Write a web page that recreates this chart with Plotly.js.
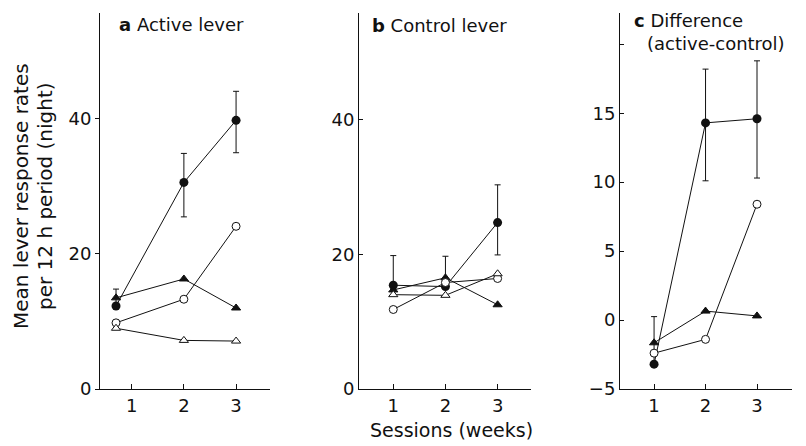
<!DOCTYPE html>
<html>
<head>
<meta charset="utf-8">
<script src="https://cdn.plot.ly/plotly-3.0.1.min.js"></script>
<style>html,body{margin:0;padding:0;background:#fff;}#chart{width:806px;height:446px;}</style>
</head>
<body>
<div id="chart"></div>
<script>
// ---- data ----
const xActive = [0.7, 2, 3];
const weeks = [1, 2, 3];

// Panel a: Active lever
const actFilledCircle = [12.3, 30.6, 39.8];
const actFilledCircleErrPlus = [2.5, 4.3, 4.3];
const actFilledCircleErrMinus = [0, 5.1, 4.8];
const actFilledTri = [13.5, 16.3, 12.0];
const actOpenCircle = [9.8, 13.3, 24.1];
const actOpenTri = [9.0, 7.2, 7.1];

// Panel b: Control lever
const ctlFilledCircle = [15.4, 15.2, 24.7];
const ctlFilledCircleErrPlus = [4.4, 4.5, 5.6];
const ctlFilledCircleErrMinus = [0, 0, 4.8];
const ctlFilledTri = [14.7, 16.5, 12.5];
const ctlOpenCircle = [11.8, 15.8, 16.4];
const ctlOpenTri = [14.0, 13.9, 17.1];

// Panel c: Difference (active-control)
const difFilledCircle = [-3.2, 14.3, 14.6];
const difFilledCircleErrPlus = [3.45, 3.9, 4.2];
const difFilledCircleErrMinus = [0, 4.2, 4.3];
const difFilledTri = [-1.65, 0.65, 0.3];
const difOpenCircle = [-2.4, -1.4, 8.4];

const xTickVals = [1, 2, 3];
const xTickText = ['1', '2', '3'];
const yTickValsAB = [0, 20, 40];
const yTickTextAB = ['0', '20', '40'];
const yTickValsC = [-5, 0, 5, 10, 15, 20];
const yTickTextC = ['\u22125', '0', '5', '10', '15', ''];

// ---- styling ----
const INK = '#111';
const FONT = 'DejaVu Sans';
const lineStyle = {color: INK, width: 1};

function filledCircle(x, y, xa, ya, plus, minus) {
  return {x: x, y: y, xaxis: xa, yaxis: ya, type: 'scatter', mode: 'lines+markers',
    line: lineStyle, marker: {symbol: 'circle', size: 9, color: INK},
    error_y: {type: 'data', symmetric: false, array: plus, arrayminus: minus,
      color: INK, thickness: 1, width: 3},
    showlegend: false, hoverinfo: 'skip'};
}
function series(x, y, xa, ya, symbol, filled, size) {
  return {x: x, y: y, xaxis: xa, yaxis: ya, type: 'scatter', mode: 'lines+markers',
    line: lineStyle,
    marker: {symbol: symbol, size: size, color: filled ? INK : '#fff', line: {color: INK, width: 1}},
    showlegend: false, hoverinfo: 'skip'};
}

const data = [
  filledCircle(xActive, actFilledCircle, 'x', 'y', actFilledCircleErrPlus, actFilledCircleErrMinus),
  series(xActive, actFilledTri, 'x', 'y', 'triangle-up', true, 8),
  series(xActive, actOpenCircle, 'x', 'y', 'circle', false, 8),
  series(xActive, actOpenTri, 'x', 'y', 'triangle-up', false, 8),

  filledCircle(weeks, ctlFilledCircle, 'x2', 'y2', ctlFilledCircleErrPlus, ctlFilledCircleErrMinus),
  series(weeks, ctlFilledTri, 'x2', 'y2', 'triangle-up', true, 8),
  series(weeks, ctlOpenCircle, 'x2', 'y2', 'circle', false, 8),
  series(weeks, ctlOpenTri, 'x2', 'y2', 'triangle-up', false, 8),

  filledCircle(weeks, difFilledCircle, 'x3', 'y3', difFilledCircleErrPlus, difFilledCircleErrMinus),
  series(weeks, difFilledTri, 'x3', 'y3', 'triangle-up', true, 8),
  series(weeks, difOpenCircle, 'x3', 'y3', 'circle', false, 8)
];

const W = 806, H = 446;
const px = v => v / W;
const py = v => 1 - v / H;

function xAxis(domain, range, anchor) {
  return {domain: domain, range: range, anchor: anchor, showgrid: false, zeroline: false,
    showline: true, linecolor: INK, linewidth: 1, ticks: 'inside', ticklen: 5, tickcolor: INK,
    tickwidth: 1, tickvals: xTickVals, ticktext: xTickText,
    tickfont: {family: FONT, size: 18, color: INK}, fixedrange: true};
}
function yAxis(domain, range, anchor, tv, tt, tickDir) {
  return {domain: domain, range: range, anchor: anchor, showgrid: false, zeroline: false,
    showline: true, linecolor: INK, linewidth: 1, ticks: tickDir, ticklen: 4, tickcolor: INK,
    tickwidth: 1, tickvals: tv, ticktext: tt,
    tickfont: {family: FONT, size: 18, color: INK}, fixedrange: true};
}

const yDom = [py(389), py(13)];

const layout = {
  width: W, height: H,
  margin: {l: 0, r: 0, t: 0, b: 0, pad: 0},
  paper_bgcolor: '#fff', plot_bgcolor: 'rgba(0,0,0,0)',
  showlegend: false,
  xaxis: xAxis([px(100), px(270)], [0.393, 3.65], 'y'),
  yaxis: yAxis(yDom, [0, 55.7], 'x', yTickValsAB, yTickTextAB, 'outside'),
  xaxis2: xAxis([px(359), px(531)], [0.343, 3.64], 'y2'),
  yaxis2: yAxis(yDom, [0, 55.8], 'x2', yTickValsAB, yTickTextAB, 'inside'),
  xaxis3: xAxis([px(620), px(792)], [0.338, 3.68], 'y3'),
  yaxis3: yAxis(yDom, [-5, 22.27], 'x3', yTickValsC, yTickTextC, 'inside'),
  annotations: [
    {text: '<b>a</b> Active lever', xref: 'paper', yref: 'paper', x: px(117), y: py(24),
      xanchor: 'left', yanchor: 'middle', showarrow: false, font: {family: FONT, size: 18, color: INK}},
    {text: '<b>b</b> Control lever', xref: 'paper', yref: 'paper', x: px(370), y: py(25),
      xanchor: 'left', yanchor: 'middle', showarrow: false, font: {family: FONT, size: 18, color: INK}},
    {text: '<b>c</b> Difference', xref: 'paper', yref: 'paper', x: px(632), y: py(20),
      xanchor: 'left', yanchor: 'middle', showarrow: false, font: {family: FONT, size: 18, color: INK}},
    {text: '(active-control)', xref: 'paper', yref: 'paper', x: px(645), y: py(44),
      xanchor: 'left', yanchor: 'middle', showarrow: false, font: {family: FONT, size: 18, color: INK}},
    {text: 'Mean lever response rates', xref: 'paper', yref: 'paper', x: px(21), y: py(196),
      xanchor: 'center', yanchor: 'middle', textangle: -90, showarrow: false,
      font: {family: FONT, size: 20, color: INK}},
    {text: 'per 12 h period (night)', xref: 'paper', yref: 'paper', x: px(45), y: py(196),
      xanchor: 'center', yanchor: 'middle', textangle: -90, showarrow: false,
      font: {family: FONT, size: 20, color: INK}},
    {text: 'Sessions (weeks)', xref: 'paper', yref: 'paper', x: px(451), y: py(430),
      xanchor: 'center', yanchor: 'middle', showarrow: false,
      font: {family: FONT, size: 19, color: INK}}
  ]
};

Plotly.newPlot('chart', data, layout, {staticPlot: true, displayModeBar: false});
</script>
</body>
</html>
